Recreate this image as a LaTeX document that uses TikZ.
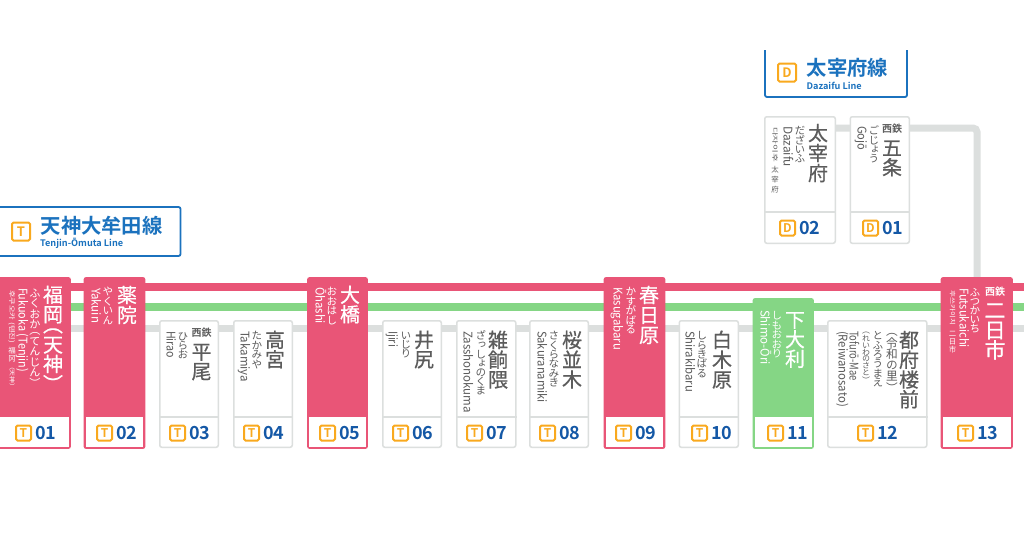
\documentclass[tikz,border=0pt]{standalone}
\usepackage{fontspec}
\setmainfont{Noto Sans CJK JP}[BoldFont={Noto Sans CJK JP Bold}]
\newfontfamily\vjreg[RawFeature={+vert}]{Noto Sans CJK JP}
\newfontfamily\vjmed[RawFeature={+vert},FakeBold=0.6]{Noto Sans CJK JP}
\definecolor{pinkc}{HTML}{E95577}
\definecolor{greenc}{HTML}{85D685}
\definecolor{grayc}{HTML}{DCDFDE}
\definecolor{blueb}{HTML}{1B72BE}
\definecolor{bluen}{HTML}{1458A6}
\definecolor{orangec}{HTML}{F9A91E}
\definecolor{textg}{HTML}{5C5C5C}
\newdimen\vspitch
\def\vscell#1{\vbox to \vspitch{\vss\hbox to 1em{\hss\smash{\lower.38em\hbox{#1}}\hss}\vss}}
\def\vshalf#1#2{\vbox to .55\vspitch{\vss\hbox to 1em{\hss\smash{\lower#2\hbox{#1}}\hss}\vss}}
\def\vsopen{（}\def\vsclose{）}
\def\vsloop#1{\ifx#1\relax\else
  \def\vstmp{#1}%
  \ifx\vstmp\vsopen\vshalf{#1}{.13em}\else\ifx\vstmp\vsclose\vshalf{#1}{.63em}\else\vscell{#1}\fi\fi
  \expandafter\vsloop\fi}
\newcounter{tn}
\newcommand\kj[5]{\pgfmathsetmacro\fs{#3*1.05}\vstackb{\vjmed}{#1}{#2}{\fs}{#4}{#5}}
\newcommand\hr[5]{\pgfmathsetmacro\fs{#3*1.06}\vstackb{\vjreg}{#1}{#2}{\fs}{#4}{#5}}
% font, x centre, y top, size, pitch, text
\newcommand\vstackb[6]{\stepcounter{tn}%
  \node[anchor=north,inner sep=0pt,outer sep=0pt] (vt\arabic{tn}) at (#2,#3) {\fontsize{#4}{#4}\selectfont#1\vspitch=#5pt\relax\vbox{\offinterlineskip\vsloop#6\relax}};}
% rotated text: x centre, y top, y bottom, size, text
\newcommand\lt[5]{\stepcounter{tn}\pgfmathsetmacro\lx{#1-.36*#4}\pgfmathsetmacro\ll{#3-#2}%
  \node[rotate=-90,anchor=base west,inner sep=0pt,outer sep=0pt] (vt\arabic{tn}) at (\lx,#2) {\resizebox{\ll pt}{\height}{\fontsize{#4}{#4}\selectfont #5}};}
\newcommand\seitetsu[3]{\stepcounter{tn}\node[anchor=center,inner sep=0pt,font=\fontsize{#3}{#3}\selectfont\bfseries] (vt\arabic{tn}) at (#1,#2) {西鉄};}
% station box: name,x0,x1,ytop,ydiv,ybot,kind colour
\newcommand\stbox[7]{\pgfmathsetmacro\cx{(#2+#3)/2}\pgfmathsetmacro\cy{(#4+#6)/2}\pgfmathsetmacro\ww{#3-#2-1.6}\pgfmathsetmacro\hh{#6-#4-1.6}\pgfmathsetmacro\wi{#3-#2-4.4}\pgfmathsetmacro\hi{#6-#5-2}%
  \node[stationbox,draw=#7,fill=#7,minimum width=\ww pt,minimum height=\hh pt] (#1) at (\cx,\cy) {};
  \node[lowerbox,minimum width=\wi pt,minimum height=\hi pt,anchor=south] (#1low) at ($(#1.south)+(0,-1.1)$) {};}
\newcommand\grbox[6]{\pgfmathsetmacro\cx{(#2+#3)/2}\pgfmathsetmacro\cy{(#4+#6)/2}\pgfmathsetmacro\ww{#3-#2-1.5}\pgfmathsetmacro\hh{#6-#4-1.5}%
  \node[stationbox,draw=grayc,fill=white,minimum width=\ww pt,minimum height=\hh pt] (#1) at (\cx,\cy) {};
  \coordinate (#1dl) at (#2,#5);\coordinate (#1dr) at (#3,#5);
  \draw[grayc,line width=1.5pt] (#1dl) -- (#1dr);}
% badge: letter, x left, y centre, number
\newcommand\badge[4]{\stepcounter{tn}\node[badgebox] (b\arabic{tn}) at (#2+8.5,#3) {#1};
  \node[anchor=west,inner sep=0pt,text=bluen,font=\fontsize{18}{18}\selectfont\bfseries] (n\arabic{tn}) at (#2+20,#3) {#4};}
\tikzset{
  x=1pt,y=-1pt,
  stationbox/.style={rectangle,rounded corners=2pt,line width=1.5pt,inner sep=0pt,outer sep=0pt},
  lowerbox/.style={rectangle,fill=white,inner sep=0pt,outer sep=0pt},
  badgebox/.style={rectangle,rounded corners=1.5pt,draw=orangec,fill=white,line width=2pt,minimum size=15pt,inner sep=0pt,text=orangec,font=\fontsize{12}{12}\selectfont\bfseries},
  pinkline/.style={pinkc,line width=8pt},
  greenline/.style={greenc,line width=8pt},
  grayline/.style={grayc,line width=7pt},
  onwhite/.style={every node/.append style={text=textg}},
  oncolor/.style={every node/.append style={text=white}},
}
\usetikzlibrary{calc}
\begin{document}
\begin{tikzpicture}
\useasboundingbox (0,0) rectangle (1024,536);
\clip (0,0) rectangle (1024,536);
\fill[white] (0,0) rectangle (1024,536);
% free line ends
\coordinate (pL) at (-5,286.5);\coordinate (pR) at (1030,286.5);
\coordinate (gL) at (-5,307);\coordinate (gR) at (1030,307);
\coordinate (yL) at (-5,328);\coordinate (yR) at (1030,328);
\draw[grayline] (yL) -- (yR);
\draw[pinkline] (pL) -- (pR);
\draw[greenline] (gL) -- (gR);
\coordinate (bA) at (800,128);\coordinate (bB) at (977,128);\coordinate (bC) at (977,285);
\draw[grayline,rounded corners=4pt] (bA) -- (bB) -- (bC);
% stations
\stbox{t01}{-6}{71}{277}{417}{449}{pinkc}
\stbox{t02}{83.5}{145.5}{277}{417}{449}{pinkc}
\grbox{t03}{159}{219}{320}{417}{448}
\grbox{t04}{233}{293}{320}{417}{448}
\stbox{t05}{307}{368}{277}{417}{449}{pinkc}
\grbox{t06}{382}{442}{320}{417}{448}
\grbox{t07}{456}{516.5}{320}{417}{448}
\grbox{t08}{529}{589}{320}{417}{448}
\stbox{t09}{603.5}{665.5}{277}{417}{449}{pinkc}
\grbox{t10}{678.5}{739}{320}{417}{448}
\stbox{t11}{752.5}{814}{298}{417}{449}{greenc}
\grbox{t12}{827}{927.5}{320}{417}{448}
\stbox{t13}{940.5}{1013}{277}{417}{449}{pinkc}
\grbox{d02}{764}{836}{116}{212}{244}
\grbox{d01}{849.5}{910}{116}{212}{244}
% badges
\badge{T}{15}{433}{01}\badge{T}{96}{433}{02}\badge{T}{169}{433}{03}\badge{T}{243}{433}{04}
\badge{T}{319}{433}{05}\badge{T}{392}{433}{06}\badge{T}{466}{433}{07}\badge{T}{539}{433}{08}
\badge{T}{615}{433}{09}\badge{T}{691}{433}{10}\badge{T}{767}{433}{11}\badge{T}{857}{433}{12}
\badge{T}{957}{433}{13}\badge{D}{779}{228}{02}\badge{D}{862}{228}{01}
% text on colour
\begin{scope}[oncolor]
\kj{53}{285}{19}{19.5}{福岡（天神）}
\hr{35}{288}{10.5}{10.5}{ふくおか（てんじん）}
\lt{23}{288}{372}{12}{Fukuoka (Tenjin)}
\lt{12}{290}{343}{6.5}{후쿠오카 (텐진)}
\hr{12}{347}{7}{7.5}{福冈}
\lt{12}{363}{390}{5.5}{（天神）}
\kj{127}{285}{19}{20}{薬院}
\hr{108}{287}{10}{9.5}{やくいん}
\lt{96}{288}{323}{12}{Yakuin}
\kj{350}{285}{19}{19.5}{大橋}
\hr{332}{287}{10}{9.5}{おおはし}
\lt{320}{287}{324}{12}{Ōhashi}
\kj{649}{285}{19}{20}{春日原}
\hr{631}{287}{10}{9.5}{かすがばる}
\lt{618}{287}{350}{12}{Kasugabaru}
\kj{795}{310}{19}{19.5}{下大利}
\hr{777}{311}{10}{9.5}{しもおおり}
\lt{765}{310}{365}{12}{Shimo-Ōri}
\seitetsu{995}{292}{10}
\kj{995}{300}{20}{20}{二日市}
\hr{975}{288}{10}{9}{ふつかいち}
\lt{964}{288}{348}{12}{Futsukaichi}
\lt{952.5}{290}{325}{6}{후쓰카이치}
\hr{952.5}{330}{7}{7.8}{二日市}
\end{scope}
% text on white
\begin{scope}[onwhite]
\seitetsu{201.5}{333}{10}
\kj{201.5}{342}{19}{19.5}{平尾}
\hr{183}{332}{10}{9}{ひらお}
\lt{171}{331}{358}{12}{Hirao}
\kj{275}{330}{19}{19.5}{高宮}
\hr{257}{331}{10}{9.5}{たかみや}
\lt{245}{331}{382}{12}{Takamiya}
\kj{424}{330}{19}{19.5}{井尻}
\hr{406}{331}{10}{9}{いじり}
\lt{393}{331}{347}{12}{Ijiri}
\kj{498}{330}{19}{19.8}{雑餉隈}
\hr{481}{331}{10}{9.2}{ざっしょのくま}
\lt{468}{331}{413}{12}{Zasshonokuma}
\kj{572}{330}{19}{19.8}{桜並木}
\hr{554}{331}{10}{9.4}{さくらなみき}
\lt{542}{331}{403}{12}{Sakuranamiki}
\kj{722}{330}{19}{19.8}{白木原}
\hr{702}{331}{10}{9.4}{しらきばる}
\lt{690}{331}{392}{12}{Shirakibaru}
\kj{909}{330}{19}{19.8}{都府楼前}
\hr{892}{331}{11}{11.2}{（令和の里）}
\hr{878}{331}{10}{9.4}{とふろうまえ}
\hr{866}{331}{7.5}{6.9}{（れいわのさと）}
\lt{854}{331}{381}{12}{Tofurō-Mae}
\lt{843}{331}{407}{12}{(Reiwanosato)}
\kj{818}{123}{19}{20}{太宰府}
\hr{800}{126}{10}{9.4}{だざいふ}
\lt{788}{126}{167}{12}{Dazaifu}
\lt{775}{127}{162}{6}{다자이후}
\hr{775}{165}{7}{10}{太宰府}
\seitetsu{892}{128.5}{10}
\kj{892}{138}{19}{19.5}{五条}
\hr{874}{126}{10}{9.4}{ごじょう}
\lt{862}{126}{150}{12}{Gojō}
\end{scope}
% line titles
\coordinate (ta) at (-3,207);\coordinate (tb) at (180.5,256);
\draw[blueb,fill=white,line width=1.8pt,rounded corners=2pt] (ta) rectangle (tb);
\node[badgebox,minimum size=18pt,font=\fontsize{13}{13}\selectfont\bfseries] (lt1) at (21,231.5) {T};
\node[anchor=west,inner sep=0pt,text=blueb,font=\fontsize{20.3}{20.3}\selectfont\bfseries] (lt1a) at (40.5,226) {天神大牟田線};
\node[anchor=west,inner sep=0pt,text=blueb] (lt1b) at (40,243.5) {\resizebox{83pt}{\height}{\fontsize{9}{9}\selectfont\bfseries Tenjin-Ōmuta Line}};
\coordinate (da) at (765,50);\coordinate (db) at (765,97);\coordinate (dc) at (907,97);\coordinate (dd) at (907,50);
\fill[white] (da) rectangle (dc);
\draw[blueb,line width=1.8pt,rounded corners=2pt] (da) -- (db) -- (dc) -- (dd);
\node[badgebox,minimum size=18pt,font=\fontsize{13}{13}\selectfont\bfseries] (lt2) at (787,72.5) {D};
\node[anchor=west,inner sep=0pt,text=blueb,font=\fontsize{20.3}{20.3}\selectfont\bfseries] (lt2a) at (806.5,68) {太宰府線};
\node[anchor=west,inner sep=0pt,text=blueb] (lt2b) at (806.5,85.5) {\resizebox{55pt}{\height}{\fontsize{9}{9}\selectfont\bfseries Dazaifu Line}};
\end{tikzpicture}
\end{document}
